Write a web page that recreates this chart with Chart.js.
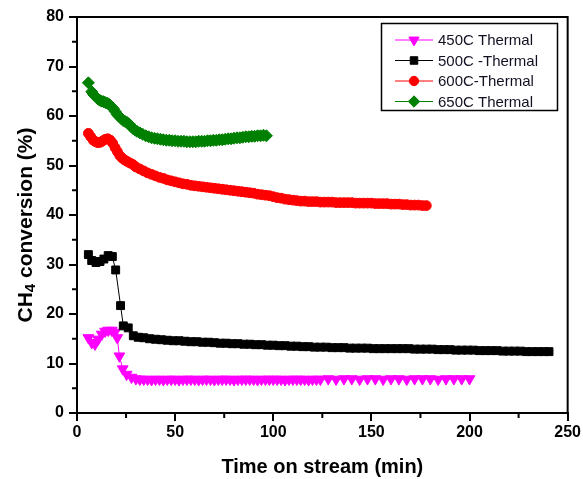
<!DOCTYPE html>
<html><head><meta charset="utf-8">
<script src="https://cdn.jsdelivr.net/npm/chart.js@4"></script>
<style>html,body{margin:0;padding:0;background:#fff;}canvas{display:block}</style>
</head><body>
<canvas id="c" width="583" height="479"></canvas>
<script>
// ---------------- data ----------------
const seriesLabels = ['450C Thermal', '500C -Thermal', '600C-Thermal', '650C Thermal'];
const xTickValues = [0, 50, 100, 150, 200, 250];
const yTickValues = [0, 10, 20, 30, 40, 50, 60, 70, 80];
const xAxisTitle = 'Time on stream (min)';
const yAxisTitleParts = ['CH', '4', ' conversion (%)'];

const time450 = [5.8,7.5,9.2,10.8,12.6,14.3,15.9,17.7,19.3,20.5,
  21.6,23.3,25.3,27.8,30,32,34,36,38,40,
  42,44,46,48,50,52,54,56,58,60,
  62,64,66,68,70,72,74,76,78,80,
  82,84,86,88,90,92,94,96,98,100,
  102,104,106,108,110,112,114,116,118,120,
  122,124,128,132,136,140,144,148,152,156,
  160,164,168,172,176,180,184,188,192,196,
  200];
const conv450 = [15.2,14.2,13.9,14.9,15.9,16.5,16.7,16.7,16.3,15.2,
  11.5,8.9,7.8,7.2,6.9,6.8,6.8,6.8,6.7,6.8,
  6.8,6.7,6.8,6.8,6.8,6.7,6.8,6.8,6.8,6.8,
  6.7,6.8,6.8,6.8,6.7,6.8,6.8,6.8,6.8,6.7,
  6.8,6.8,6.8,6.8,6.8,6.7,6.8,6.8,6.8,6.8,
  6.8,6.8,6.7,6.8,6.8,6.8,6.8,6.8,6.7,6.8,
  6.8,6.8,6.9,6.8,6.9,6.9,6.8,6.9,6.9,6.8,
  6.9,6.9,6.8,6.9,6.9,6.9,6.8,6.9,6.9,6.9,
  6.9];

const time500 = [5.8,7.5,9.7,11.7,13.7,15.9,18,19.7,22.2,23.6,
  26.1,28.7,31.2,34,37,40,43,46,49,52,
  55,58,61,64,67,70,73,76,79,82,
  85,88,91,94,97,100,103,106,109,112,
  115,118,121,124,127,130,133,136,139,142,
  145,148,151,154,157,160,163,166,169,172,
  175,178,181,184,187,190,193,196,199,202,
  205,208,211,214,217,220,223,226,229,232,
  235,238,240.5];
const conv500 = [32.0,30.8,30.4,30.6,31.1,31.8,31.6,28.9,21.7,17.6,
  17.2,15.6,15.3,15.2,15.0,14.9,14.8,14.7,14.6,14.6,
  14.5,14.4,14.4,14.3,14.3,14.2,14.1,14.1,14.0,14.0,
  13.9,13.9,13.8,13.8,13.7,13.7,13.6,13.6,13.5,13.5,
  13.4,13.4,13.3,13.3,13.3,13.2,13.2,13.2,13.1,13.1,
  13.1,13.1,13.0,13.0,13.0,13.0,13.0,13.0,13.0,12.9,
  12.9,12.9,12.9,12.8,12.8,12.8,12.7,12.7,12.7,12.7,
  12.6,12.6,12.6,12.6,12.5,12.5,12.5,12.5,12.4,12.4,
  12.4,12.4,12.4];

const time600 = [5.8,7,8.3,9.5,10.7,12,13.2,14.5,15.7,17,
  18.2,19.4,20.6,21.8,23,24.3,25.6,27,28.5,30,
  32,34,36,38,40,42,44,46,48,50,
  52,54,56,58,60,62,64,66,68,70,
  72,74,76,78,80,82,84,86,88,90,
  92,94,96,98,100,102,104,106,108,110,
  112,114,116,118,120,122,124,126,128,130,
  132,134,136,138,140,142,144,146,148,150,
  152,154,156,158,160,162,164,166,168,170,
  172,174,176,178];
const conv600 = [56.5,55.8,55.1,54.8,54.6,54.7,55.0,55.3,55.4,55.1,
  54.5,53.6,52.8,52.0,51.5,51.1,50.8,50.5,50.2,49.7,
  49.3,48.9,48.5,48.2,47.9,47.6,47.4,47.1,46.9,46.7,
  46.5,46.3,46.2,46.0,45.9,45.8,45.7,45.6,45.5,45.4,
  45.3,45.2,45.1,45.0,44.9,44.8,44.7,44.6,44.5,44.4,
  44.2,44.1,44.0,43.9,43.7,43.5,43.4,43.2,43.1,43.0,
  42.9,42.8,42.8,42.7,42.7,42.7,42.6,42.6,42.6,42.6,
  42.5,42.5,42.5,42.5,42.5,42.4,42.4,42.4,42.4,42.4,
  42.3,42.3,42.3,42.3,42.2,42.2,42.2,42.1,42.1,42.0,
  42.0,42.0,41.9,41.9];

const time650 = [5.8,7.5,8.5,9.5,10.5,11.5,12.5,13.5,14.5,15.5,
  16.5,17.5,18.5,19.5,20.5,21.5,22.5,23.5,24.5,25.5,
  26.5,27.5,28.5,29.5,30.5,32,33.5,35,36.5,38,
  39.5,41,42.5,44,45.5,47,48.5,50,51.5,53,
  54.5,56,57.5,59,60.5,62,63.5,65,66.5,68,
  69.5,71,72.5,74,75.5,77,78.5,80,81.5,83,
  84.5,86,87.5,89,90.5,92,93.5,95,96.5];
const conv650 = [66.7,64.9,64.3,63.9,63.5,63.2,63.0,62.9,62.7,62.6,
  62.3,61.9,61.5,60.9,60.3,59.9,59.5,59.1,58.9,58.7,
  58.4,57.9,57.5,57.2,56.9,56.6,56.3,56.0,55.8,55.6,
  55.5,55.4,55.3,55.2,55.1,55.1,55.0,55.0,54.9,54.9,
  54.9,54.8,54.8,54.8,54.8,54.9,54.9,54.9,55.0,55.0,
  55.1,55.1,55.2,55.2,55.3,55.4,55.4,55.5,55.6,55.6,
  55.7,55.8,55.8,55.9,55.9,56.0,56.0,56.1,56.0];

// ---------------- styling ----------------
const FONT = "'Liberation Sans', Arial, Helvetica, sans-serif";
const styles = [
  {color: '#ff00ff', pointStyle: 'triangle', rotation: 180, radius: 6.2},
  {color: '#000000', pointStyle: 'rect', rotation: 0, radius: 5.6},
  {color: '#ff0000', pointStyle: 'circle', rotation: 0, radius: 4.9},
  {color: '#008000', pointStyle: 'rectRot', rotation: 0, radius: 6.0}
];
function zip(t, v) {
  const n = Math.min(t.length, v.length), out = [];
  for (let i = 0; i < n; i++) out.push({x: t[i], y: v[i]});
  return out;
}
const seriesData = [zip(time450, conv450), zip(time500, conv500), zip(time600, conv600), zip(time650, conv650)];

const datasets = seriesData.map((d, i) => ({
  label: seriesLabels[i],
  data: d,
  showLine: true,
  borderColor: styles[i].color,
  backgroundColor: styles[i].color,
  borderWidth: 1,
  pointStyle: styles[i].pointStyle,
  pointRotation: styles[i].rotation,
  pointRadius: styles[i].radius,
  pointBorderWidth: 1,
  pointBorderColor: styles[i].color,
  pointBackgroundColor: styles[i].color,
  tension: 0,
  order: 4 - i
}));

function drawMarker(ctx, style, x, y) {
  const r = style.radius;
  ctx.beginPath();
  if (style.pointStyle === 'triangle') {
    const rot = style.rotation * Math.PI / 180;
    for (let k = 0; k < 3; k++) {
      const a = rot + k * 2 * Math.PI / 3;
      const px = x + Math.sin(a) * r, py = y - Math.cos(a) * r;
      if (k === 0) ctx.moveTo(px, py); else ctx.lineTo(px, py);
    }
    ctx.closePath();
  } else if (style.pointStyle === 'rect') {
    const s = Math.SQRT1_2 * r;
    ctx.rect(x - s, y - s, 2 * s, 2 * s);
  } else if (style.pointStyle === 'circle') {
    ctx.arc(x, y, r, 0, Math.PI * 2);
  } else {
    ctx.moveTo(x - r, y); ctx.lineTo(x, y - r); ctx.lineTo(x + r, y); ctx.lineTo(x, y + r); ctx.closePath();
  }
  ctx.fillStyle = style.color; ctx.strokeStyle = style.color; ctx.lineWidth = 1;
  ctx.fill(); ctx.stroke();
}

const decorPlugin = {
  id: 'decor',
  afterDraw(chart) {
    const {ctx, chartArea: a, scales} = chart;
    const xs = scales.x, ys = scales.y;
    ctx.save();
    // frame top & right
    ctx.strokeStyle = '#000'; ctx.lineWidth = 2;
    ctx.beginPath();
    ctx.moveTo(a.left - 1, a.top); ctx.lineTo(a.right, a.top); ctx.lineTo(a.right, a.bottom + 1);
    ctx.stroke();
    // minor ticks (midpoints between major ticks)
    ctx.lineWidth = 2;
    ctx.beginPath();
    for (let i = 0; i < yTickValues.length - 1; i++) {
      const py = ys.getPixelForValue((yTickValues[i] + yTickValues[i + 1]) / 2);
      ctx.moveTo(a.left - 5, py); ctx.lineTo(a.left, py);
    }
    for (let i = 0; i < xTickValues.length - 1; i++) {
      const px = xs.getPixelForValue((xTickValues[i] + xTickValues[i + 1]) / 2);
      ctx.moveTo(px, a.bottom); ctx.lineTo(px, a.bottom + 5);
    }
    ctx.stroke();
    // y axis title with subscript
    ctx.save();
    ctx.translate(24, (a.top + a.bottom) / 2 + 10);
    ctx.rotate(-Math.PI / 2);
    ctx.fillStyle = '#000';
    ctx.textBaseline = 'alphabetic';
    const fBig = 'bold 21px ' + FONT, fSmall = 'bold 15px ' + FONT;
    ctx.font = fBig; const w0 = ctx.measureText(yAxisTitleParts[0]).width;
    const w2 = ctx.measureText(yAxisTitleParts[2]).width;
    ctx.font = fSmall; const w1 = ctx.measureText(yAxisTitleParts[1]).width;
    let sx = -(w0 + w1 + w2) / 2;
    ctx.font = fBig; ctx.textAlign = 'left';
    ctx.fillText(yAxisTitleParts[0], sx, 7.5); sx += w0;
    ctx.font = fSmall; ctx.fillText(yAxisTitleParts[1], sx, 10.5); sx += w1;
    ctx.font = fBig; ctx.fillText(yAxisTitleParts[2], sx, 7.5);
    ctx.restore();
    // legend box
    const L = {left: 381, top: 23, right: 557, bottom: 110};
    ctx.lineWidth = 1.5; ctx.strokeStyle = '#000';
    ctx.strokeRect(L.left + 0.5, L.top + 0.5, L.right - L.left, L.bottom - L.top);
    chart.data.datasets.forEach((ds, i) => {
      const cy = 40 + i * 20.5;
      ctx.strokeStyle = ds.borderColor; ctx.lineWidth = 1;
      ctx.beginPath(); ctx.moveTo(395, cy); ctx.lineTo(433, cy); ctx.stroke();
      drawMarker(ctx, Object.assign({}, styles[i], {radius: styles[i].radius * 0.95}), 414, cy);
      ctx.fillStyle = '#111122';
      ctx.font = '15px ' + FONT;
      ctx.textAlign = 'left'; ctx.textBaseline = 'middle';
      ctx.fillText(ds.label, 438, cy + 1);
    });
    ctx.restore();
  }
};

new Chart(document.getElementById('c'), {
  type: 'scatter',
  data: {datasets},
  options: {
    responsive: false,
    animation: false,
    devicePixelRatio: 1,
    layout: {padding: {top: 17, right: 15, left: 0, bottom: 0}},
    plugins: {legend: {display: false}, tooltip: {enabled: false}},
    scales: {
      x: {
        type: 'linear', min: 0, max: 250,
        afterBuildTicks: s => { s.ticks = xTickValues.map(v => ({value: v})); },
        afterFit: s => { s.height = 66; },
        grid: {drawOnChartArea: false, drawTicks: true, tickLength: 8, color: '#000', lineWidth: 2},
        border: {display: true, color: '#000', width: 2},
        ticks: {color: '#000', font: {family: FONT, size: 16, weight: 'bold'}, padding: 2, maxRotation: 0},
        title: {display: true, text: xAxisTitle, color: '#000', font: {family: FONT, size: 20, weight: 'bold'}, padding: {top: 0, bottom: 0}}
      },
      y: {
        type: 'linear', min: 0, max: 80,
        afterBuildTicks: s => { s.ticks = yTickValues.map(v => ({value: v})); },
        afterFit: s => { s.width = 77; },
        grid: {drawOnChartArea: false, drawTicks: true, tickLength: 8, color: '#000', lineWidth: 2},
        border: {display: true, color: '#000', width: 2},
        ticks: {color: '#000', font: {family: FONT, size: 16, weight: 'bold'}, padding: 5}
      }
    }
  },
  plugins: [decorPlugin]
});
</script>
</body></html>
